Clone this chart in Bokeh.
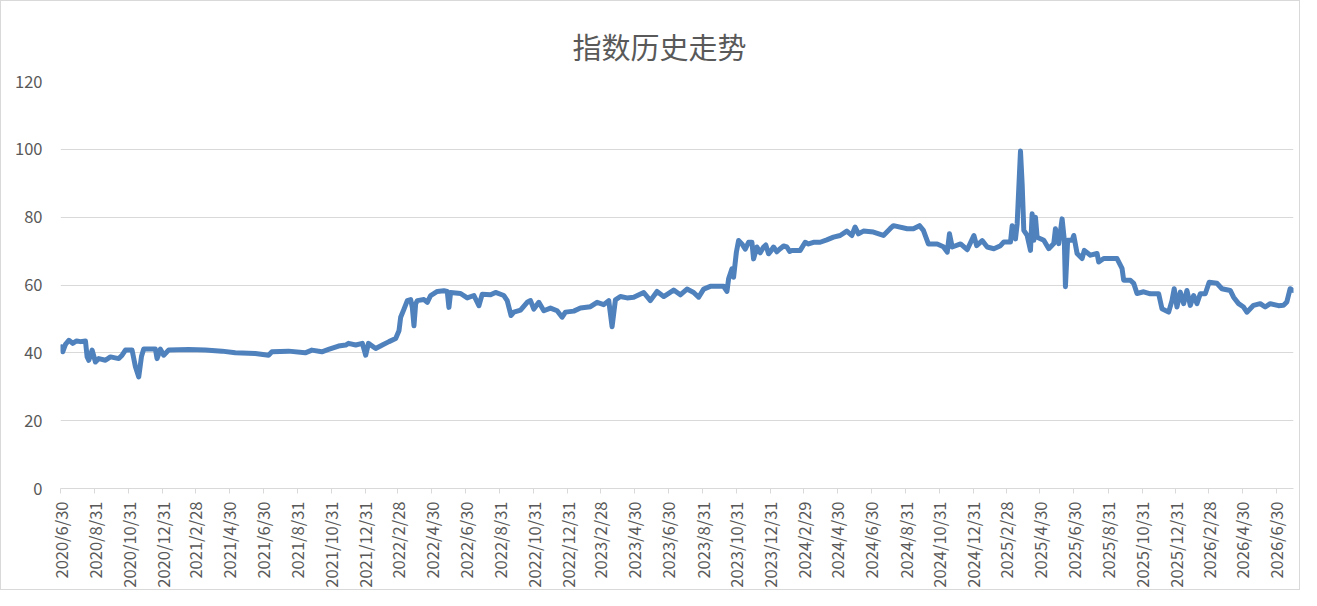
import pandas as pd
from bokeh.plotting import figure
from bokeh.models import FixedTicker, ColumnDataSource
from bokeh.embed import file_html
from bokeh.resources import INLINE

title_text = "指数历史走势"
base_date = "2020/6/30"
end_date = "2026/7/31"

# days since base_date
days = [2, 4, 9, 15, 22, 29, 36, 45, 48, 51, 57, 63, 69, 81, 90, 105, 111, 117, 129, 135,
        141, 146, 150, 171, 174, 180, 186, 195, 231, 261, 291, 315, 351, 375, 381, 411, 441, 453, 471, 483,
        501, 514, 519, 532, 544, 550, 555, 568, 580, 592, 604,
        610, 613, 619, 625, 631, 634, 637, 640, 643, 655, 661, 667, 679, 691, 697, 700, 703, 721, 733,
        745, 754, 760, 775, 784, 799, 805, 812, 817, 829, 841, 847, 853, 862, 871, 883, 895, 904, 910, 925,
        937, 955, 967, 979, 988, 994, 1000, 1009, 1021, 1033, 1051, 1063, 1075, 1087, 1105, 1117, 1129, 1141,
        1150, 1159, 1171, 1195, 1201,
        1204, 1210, 1213, 1218, 1222, 1228, 1234, 1240, 1246, 1249, 1255, 1261, 1267, 1271, 1276, 1280, 1285,
        1291, 1297, 1303, 1309, 1314, 1318,
        1333, 1342, 1348, 1357, 1369, 1381, 1393, 1405, 1417, 1426, 1432, 1438, 1447, 1465, 1483, 1495, 1501,
        1526, 1537, 1548, 1555, 1564, 1580, 1591, 1598, 1602, 1607, 1622, 1634, 1646, 1651, 1661, 1670, 1682,
        1694, 1700, 1712, 1715, 1721, 1724, 1730, 1733, 1736, 1742, 1748, 1751, 1754, 1757, 1760, 1772, 1781,
        1790, 1793, 1799, 1805, 1809, 1811, 1815, 1823, 1826, 1832, 1841, 1845, 1856, 1868, 1871, 1880, 1904,
        1913, 1916, 1928, 1934, 1940, 1952,
        1964, 1979, 1985, 1997, 2003, 2007, 2012, 2018, 2024, 2030, 2036, 2042, 2048, 2054, 2063, 2070,
        2084, 2093, 2108, 2114, 2123, 2132, 2138, 2150, 2162, 2171, 2180, 2195, 2204, 2210, 2216, 2221]

index_values = [41.8, 40.3, 42.5, 43.7, 42.8, 43.5, 43.3, 43.5, 38.8, 37.8, 40.8, 37.3, 38.3, 37.8, 38.8, 38.3, 39.3, 40.8, 40.8, 35.9,
                32.9, 39.0, 41.1, 41.1, 38.3, 41.1, 39.3, 40.8, 41.0, 40.8, 40.5, 40.0, 39.8, 39.3, 40.3, 40.5, 40.0, 40.8, 40.3, 41.0,
                42.0, 42.3, 42.8, 42.3, 42.8, 39.3, 42.8, 41.3, 42.3, 43.3, 44.2,
                46.5, 50.5, 52.9, 55.4, 55.7, 53.4, 48.0, 54.4, 55.4, 55.7, 54.9, 56.9, 58.1, 58.3, 58.1, 53.4, 57.8, 57.5, 56.2,
                56.9, 53.9, 57.3, 57.1, 57.8, 56.9, 55.4, 51.0, 52.0, 52.6, 54.9, 55.4, 52.9, 54.9, 52.4, 53.2, 52.4, 50.5, 52.0, 52.3,
                53.2, 53.6, 54.9, 54.2, 55.4, 47.7, 55.6, 56.6, 56.2, 56.4, 57.8, 55.4, 58.1, 56.6, 58.5, 57.1, 58.8, 57.8,
                56.4, 58.8, 59.6, 59.6, 58.1,
                61.8, 64.8, 62.3, 69.7, 73.1, 72.1, 70.6, 72.6, 72.6, 67.7, 71.2, 69.5, 71.2, 71.8, 69.2, 70.0, 71.2,
                69.8, 70.7, 71.5, 71.2, 69.9, 70.2,
                70.2, 72.6, 72.1, 72.6, 72.6, 73.3, 74.1, 74.6, 75.9, 74.6, 77.1, 75.1, 75.9, 75.6, 74.6, 76.6, 77.5,
                76.6, 76.6, 77.5, 76.1, 72.1, 72.1, 71.3, 69.7, 75.1, 71.2, 72.1, 70.4, 74.6, 71.6, 73.1, 71.2, 70.7,
                71.6, 72.7, 72.7, 77.5, 73.6, 78.0, 99.5, 89.8, 76.1, 74.6, 70.2, 81.0, 73.2, 80.0, 74.1, 73.2, 70.7,
                72.2, 76.6, 72.2, 79.5, 73.2, 59.5, 73.2, 73.2, 74.6, 69.3, 67.8, 70.2, 68.8, 69.3, 66.8, 67.8, 67.8,
                64.9, 61.4, 61.4, 60.5, 57.5, 58.0,
                57.4, 57.4, 53.0, 52.0, 55.4, 58.9, 53.5, 57.9, 54.5, 58.4, 54.0, 56.9, 54.5, 57.4, 57.4, 60.8,
                60.5, 58.9, 58.4, 56.4, 54.5, 53.5, 52.0, 54.0, 54.5, 53.5, 54.5, 53.9, 54.0, 55.0, 58.9, 58.4]

tick_labels = ["2020/6/30", "2020/8/31", "2020/10/31", "2020/12/31",
               "2021/2/28", "2021/4/30", "2021/6/30", "2021/8/31", "2021/10/31", "2021/12/31",
               "2022/2/28", "2022/4/30", "2022/6/30", "2022/8/31", "2022/10/31", "2022/12/31",
               "2023/2/28", "2023/4/30", "2023/6/30", "2023/8/31", "2023/10/31", "2023/12/31",
               "2024/2/29", "2024/4/30", "2024/6/30", "2024/8/31", "2024/10/31", "2024/12/31",
               "2025/2/28", "2025/4/30", "2025/6/30", "2025/8/31", "2025/10/31", "2025/12/31",
               "2026/2/28", "2026/4/30", "2026/6/30"]
y_ticks = [0, 20, 40, 60, 80, 100, 120]

base = pd.to_datetime(base_date, format="%Y/%m/%d")
tick_pos = [int((pd.to_datetime(s, format="%Y/%m/%d") - base).days) for s in tick_labels]
x_end = int((pd.to_datetime(end_date, format="%Y/%m/%d") - base).days)

FONT = "Noto Sans CJK SC"
GREY = "#595959"
GRID = "#d9d9d9"

p = figure(width=1300, height=590, output_backend="svg", toolbar_location=None,
           x_range=(0, x_end), y_range=(0, 120),
           min_border_left=59, min_border_right=8, min_border_top=80, min_border_bottom=103)
p.title.text = title_text
p.title.align = "left"
p.title.offset = 512
p.title.vertical_align = "middle"
p.title.text_font = FONT
p.title.text_font_size = "29px"
p.title.text_font_style = "normal"
p.title.text_color = GREY
p.title.standoff = 28
p.outline_line_color = None
p.background_fill_color = "white"
p.styles = {"border": "1px solid #d9d9d9"}

src = ColumnDataSource(dict(x=days, y=index_values))
p.line("x", "y", source=src, line_width=5, line_color="#4F81BD", line_join="round", line_cap="round")

p.xgrid.grid_line_color = None
p.ygrid.grid_line_color = GRID
p.ygrid.grid_line_width = 1
p.ygrid.ticker = FixedTicker(ticks=y_ticks)

p.yaxis.ticker = FixedTicker(ticks=y_ticks)
p.yaxis.axis_line_color = None
p.yaxis.major_tick_line_color = None
p.yaxis.minor_tick_line_color = None
p.yaxis.major_label_standoff = 12
p.yaxis.major_label_text_font = FONT
p.yaxis.major_label_text_font_size = "16.5px"
p.yaxis.major_label_text_color = GREY

p.xaxis.ticker = FixedTicker(ticks=tick_pos)
p.xaxis.major_label_overrides = {pos: lab for pos, lab in zip(tick_pos, tick_labels)}
p.xaxis.major_label_orientation = 1.5707963267948966
p.xaxis.axis_line_color = GRID
p.xaxis.axis_line_width = 1
p.xaxis.major_tick_line_color = GRID
p.xaxis.major_tick_in = 0
p.xaxis.major_tick_out = 5
p.xaxis.minor_tick_line_color = None
p.xaxis.major_label_standoff = 8
p.xaxis.major_label_text_font = FONT
p.xaxis.major_label_text_font_size = "16.5px"
p.xaxis.major_label_text_color = GREY

open("out.html", "w").write(file_html(p, INLINE))
